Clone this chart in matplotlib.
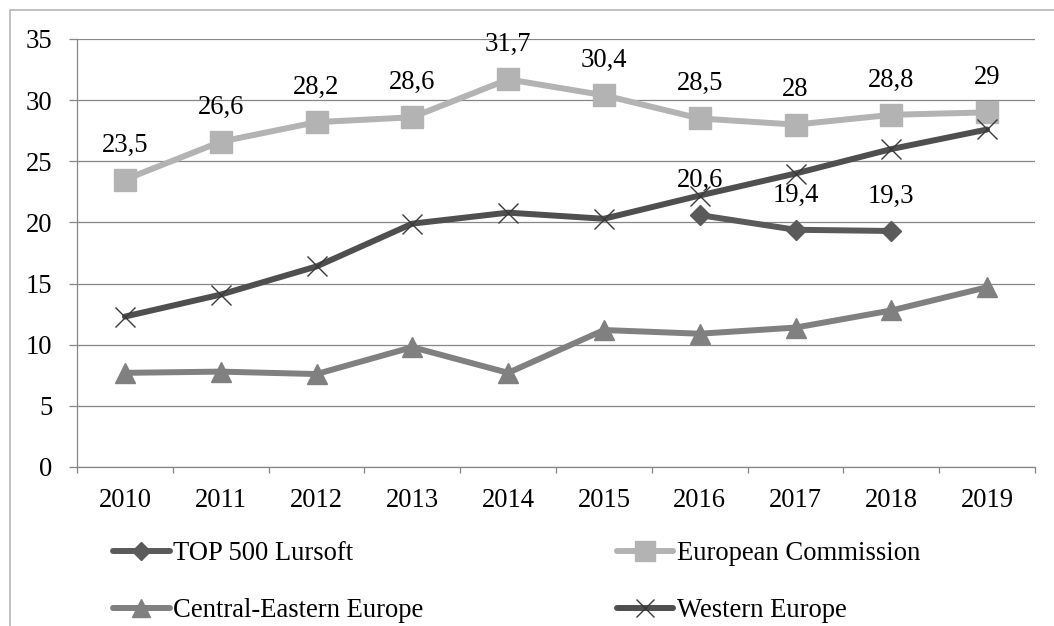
import matplotlib
matplotlib.use("Agg")
import matplotlib.pyplot as plt
from matplotlib.patches import Rectangle

years = ["2010", "2011", "2012", "2013", "2014", "2015", "2016", "2017", "2018", "2019"]

lursoft_years = ["2016", "2017", "2018"]
lursoft = [20.6, 19.4, 19.3]
european_commission = [23.5, 26.6, 28.2, 28.6, 31.7, 30.4, 28.5, 28.0, 28.8, 29.0]
central_eastern = [7.7, 7.8, 7.6, 9.8, 7.7, 11.2, 10.9, 11.4, 12.8, 14.7]
western = [12.3, 14.1, 16.4, 19.9, 20.8, 20.3, 22.2, 24.0, 26.0, 27.6]

y_ticks = [0, 5, 10, 15, 20, 25, 30, 35]

FS = 19.2
plt.rcParams["font.family"] = ["Liberation Serif", "DejaVu Serif"]
plt.rcParams["font.size"] = FS

W, H = 1054, 626
fig = plt.figure(figsize=(W / 100, H / 100), dpi=100)
ax = fig.add_axes([77 / W, 1 - 467 / H, (1035 - 77) / W, (467 - 39) / H])

# outer chart-area frame
fig.patches.append(Rectangle((10 / W, -0.5), 2.0, 1 - 10 / H + 0.5,
                             transform=fig.transFigure, fill=False,
                             edgecolor="#b0b0b0", linewidth=1.1, zorder=0))

x = list(range(len(years)))
xl = [years.index(y) for y in lursoft_years]

grid_c = "#878787"
lw = 4.3
common = dict(solid_capstyle="round", solid_joinstyle="round", linewidth=lw)

l_lur, = ax.plot(xl, lursoft, color="#5a5a5a", marker="D", markersize=10.5,
                 label="TOP 500 Lursoft", zorder=3, **common)
l_ec, = ax.plot(x, european_commission, color="#b3b3b3", marker="s", markersize=15.5,
                label="European Commission", zorder=4, **common)
l_cee, = ax.plot(x, central_eastern, color="#808080", marker="^", markersize=15,
                 label="Central-Eastern Europe", zorder=5, **common)
l_we, = ax.plot(x, western, color="#4f4f4f", marker="x", markersize=14,
                markeredgewidth=1.0, markeredgecolor="#3a3a3a",
                label="Western Europe", zorder=6, **common)


def fmt(v):
    s = ("%.1f" % v).rstrip("0").rstrip(".")
    return s.replace(".", ",")


for xi, v in zip(x, european_commission):
    ax.annotate(fmt(v), (xi, v), xytext=(0, 25), textcoords="offset points",
                ha="center", va="center", fontsize=FS, color="black", zorder=10)
for xi, v in zip(xl, lursoft):
    ax.annotate(fmt(v), (xi, v), xytext=(0, 25), textcoords="offset points",
                ha="center", va="center", fontsize=FS, color="black", zorder=10)

ax.set_xlim(-0.5, len(years) - 0.5)
ax.set_ylim(0, 35)
ax.set_yticks(y_ticks)
ax.set_yticklabels([str(t) for t in y_ticks])
ax.set_xticks(x)
ax.set_xticklabels(years)
ax.set_xticks([i - 0.5 for i in range(len(years) + 1)], minor=True)

ax.grid(axis="y", color=grid_c, linewidth=0.9, zorder=0)
ax.set_axisbelow(True)
for side in ("top", "right"):
    ax.spines[side].set_visible(False)
for side in ("left", "bottom"):
    ax.spines[side].set_color(grid_c)
    ax.spines[side].set_linewidth(0.9)

ax.tick_params(axis="y", length=5.8, width=0.9, color=grid_c, pad=12, labelsize=FS)
ax.tick_params(axis="x", which="major", length=0, pad=15, labelsize=FS)
ax.tick_params(axis="x", which="minor", length=4.5, width=0.9, color=grid_c)

handles = [l_lur, l_cee, l_ec, l_we]
leg = fig.legend(handles=handles, labels=[h.get_label() for h in handles],
                 ncol=2, loc="upper left",
                 bbox_to_anchor=(113 / W, 1 - 541 / H),
                 frameon=False, borderpad=0, borderaxespad=0,
                 handlelength=2.13, handletextpad=0.12, columnspacing=7.25,
                 labelspacing=1.2, fontsize=FS, markerscale=0.9)

fig.savefig("out.png", dpi=100)
